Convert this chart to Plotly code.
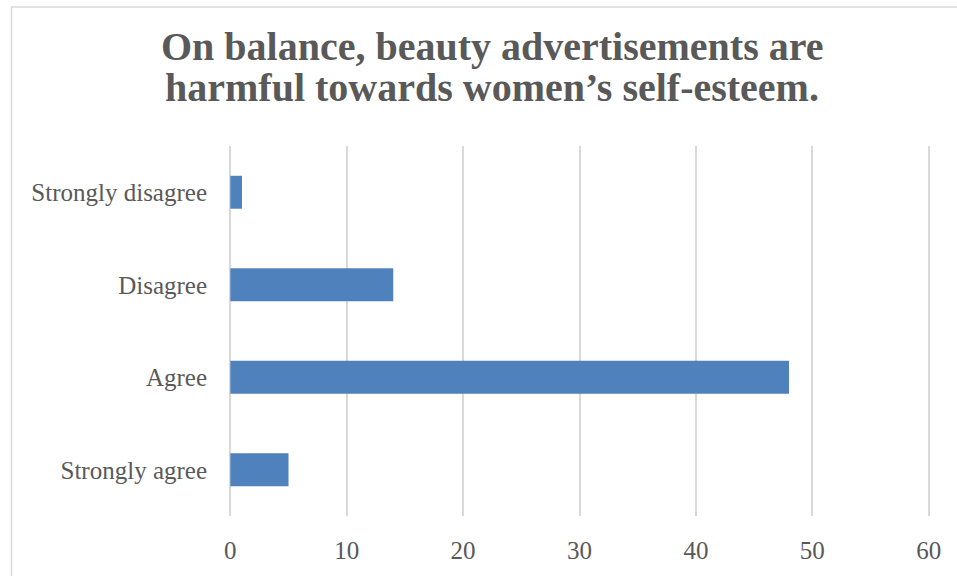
import plotly.graph_objects as go

# Survey responses (bottom to top on the category axis)
categories = ["Strongly agree", "Agree", "Disagree", "Strongly disagree"]
counts = [5, 48, 14, 1]
x_ticks = [0, 10, 20, 30, 40, 50, 60]
title_lines = [
    "On balance, beauty advertisements are",
    "harmful towards women\u2019s self-esteem.",
]

W, H = 957, 576
L, R, T, B = 228, 26, 146, 56
pw, ph = W - L - R, H - T - B

fig = go.Figure(
    go.Bar(
        x=counts,
        y=categories,
        orientation="h",
        marker=dict(color="#4f81bd", line=dict(width=0)),
        width=0.356,
        hoverinfo="x+y",
    )
)

text_color = "#595959"
grid_color = "#d9d9d9"
font_family = "Liberation Serif, DejaVu Serif, serif"

# Two-line heading placed line by line for tight leading
title_centers = [45, 87]
annotations = [
    dict(
        text=f"<b>{line}</b>",
        xref="paper", yref="paper",
        x=(492 - L) / pw, xanchor="center",
        y=1 + (T - cy) / ph, yanchor="middle",
        showarrow=False,
        font=dict(family=font_family, size=40, color=text_color),
    )
    for line, cy in zip(title_lines, title_centers)
]

fig.update_layout(
    width=W,
    height=H,
    margin=dict(l=L, r=R, t=T, b=B),
    paper_bgcolor="white",
    plot_bgcolor="white",
    showlegend=False,
    font=dict(family=font_family, color=text_color, size=25),
    annotations=annotations,
    xaxis=dict(
        # small padding so the gridlines at 0 and 60 stay visible
        range=[-0.2, 60.2],
        tickvals=x_ticks,
        showgrid=True,
        gridcolor=grid_color,
        gridwidth=1.5,
        zeroline=False,
        showline=False,
        ticks="",
        ticklabelstandoff=17,
        tickfont=dict(size=25, color=text_color),
        fixedrange=True,
    ),
    yaxis=dict(
        showgrid=False,
        zeroline=False,
        showline=False,
        ticks="",
        ticklabelstandoff=20,
        tickfont=dict(size=25, color=text_color),
        fixedrange=True,
    ),
    shapes=[
        # chart frame (left and top edges visible)
        dict(
            type="rect", xref="paper", yref="paper",
            x0=(11.5 - L) / pw, x1=(W + 20 - L) / pw,
            y0=-(H + 20 - T - ph) / ph, y1=1 + (T - 5.5) / ph,
            line=dict(color=grid_color, width=1.5),
            fillcolor="rgba(0,0,0,0)",
            layer="below",
        )
    ],
)

fig.write_html("out.html")
